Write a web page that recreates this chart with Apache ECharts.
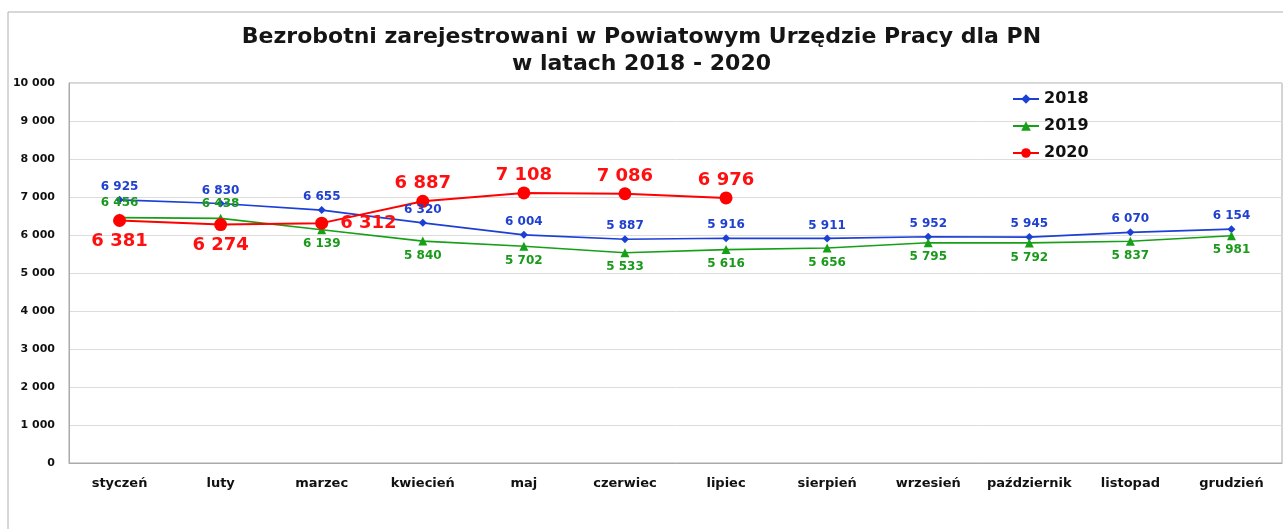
<!DOCTYPE html>
<html>
<head>
<meta charset="utf-8">
<script src="https://cdn.jsdelivr.net/npm/echarts@6/dist/echarts.min.js"></script>
<style>
  html, body { margin: 0; padding: 0; background: #fff; }
  #chart { width: 1283px; height: 529px; }
</style>
</head>
<body>
<div id="chart"></div>
<script>
// miesiące
const months = ['styczeń', 'luty', 'marzec', 'kwiecień', 'maj', 'czerwiec', 'lipiec',
  'sierpień', 'wrzesień', 'październik', 'listopad', 'grudzień']
const y2018 = [6925, 6830, 6655, 6320, 6004, 5887, 5916, 5911, 5952, 5945, 6070, 6154]
const y2019 = [6456, 6438, 6139, 5840, 5702, 5533, 5616, 5656, 5795, 5792, 5837, 5981]
const y2020 = [6381, 6274, 6312, 6887, 7108, 7086, 6976]

const pos2019 = ['top', 'top', 'bottom', 'bottom', 'bottom', 'bottom', 'bottom',
  'bottom', 'bottom', 'bottom', 'bottom', 'bottom']
const pos2020 = ['bottom', 'bottom', 'right', 'top', 'top', 'top', 'top']

const fmt = v => String(v).replace(/\B(?=(\d{3})+(?!\d))/g, ' ')
const FONT = '"DejaVu Sans", sans-serif'

const dist2020 = { top: 2, bottom: 5, right: 12 }

const chart = echarts.init(document.getElementById('chart'))

chart.setOption({
  animation: false,
  textStyle: { fontFamily: FONT },
  title: {
    text: 'Bezrobotni zarejestrowani w Powiatowym Urzędzie Pracy dla PN\nw latach 2018 - 2020',
    left: 'center',
    top: 19,
    textStyle: { fontSize: 22, fontWeight: 'bold', color: '#151515', lineHeight: 27, fontFamily: FONT }
  },
  legend: {
    orient: 'vertical',
    left: 1007,
    top: 86,
    itemWidth: 26,
    itemHeight: 12,
    itemGap: 11,
    textStyle: { fontSize: 16, fontWeight: 'bold', color: '#111', fontFamily: FONT },
    data: ['2018', '2019', '2020']
  },
  graphic: [{
    type: 'rect',
    shape: { x: 8, y: 12, width: 1300, height: 600 },
    style: { fill: 'none', stroke: '#b0b0b0', lineWidth: 1 },
    silent: true
  }],
  grid: { left: 69, right: 1, top: 83, bottom: 66, show: true, borderColor: '#aaa' },
  xAxis: {
    type: 'category',
    data: months,
    axisTick: { show: false },
    axisLine: { lineStyle: { color: '#aaa' } },
    axisLabel: { interval: 0, fontSize: 13, fontWeight: 'bold', color: '#111', margin: 14 }
  },
  yAxis: {
    type: 'value',
    min: 0,
    max: 10000,
    interval: 1000,
    axisLine: { show: true, lineStyle: { color: '#aaa' } },
    axisTick: { show: false },
    splitLine: { lineStyle: { color: '#dcdcdc' } },
    axisLabel: { fontSize: 11, fontWeight: 'bold', color: '#111', margin: 14, formatter: fmt }
  },
  series: [
    {
      name: '2018',
      type: 'line',
      data: y2018,
      symbol: 'diamond',
      symbolSize: 8,
      color: '#1c3fd6',
      lineStyle: { width: 1.6 },
      label: {
        show: true, position: 'top', distance: 3,
        fontSize: 12, fontWeight: 'bold', color: '#2040d0',
        formatter: p => fmt(p.value)
      }
    },
    {
      name: '2019',
      type: 'line',
      data: y2019.map((v, i) => ({ value: v, label: { position: pos2019[i] } })),
      symbol: 'triangle',
      symbolSize: 9,
      color: '#17a017',
      lineStyle: { width: 1.6 },
      label: {
        show: true, distance: 4,
        fontSize: 12, fontWeight: 'bold', color: '#1a9a1a',
        formatter: p => fmt(p.value)
      }
    },
    {
      name: '2020',
      type: 'line',
      data: y2020.map((v, i) => ({
        value: v,
        label: { position: pos2020[i], distance: dist2020[pos2020[i]] }
      })),
      symbol: 'circle',
      symbolSize: 13,
      color: '#ff0000',
      lineStyle: { width: 2 },
      label: {
        show: true,
        fontSize: 18, fontWeight: 'bold', color: '#ff1010',
        formatter: p => fmt(p.value)
      }
    }
  ]
})
</script>
</body>
</html>
